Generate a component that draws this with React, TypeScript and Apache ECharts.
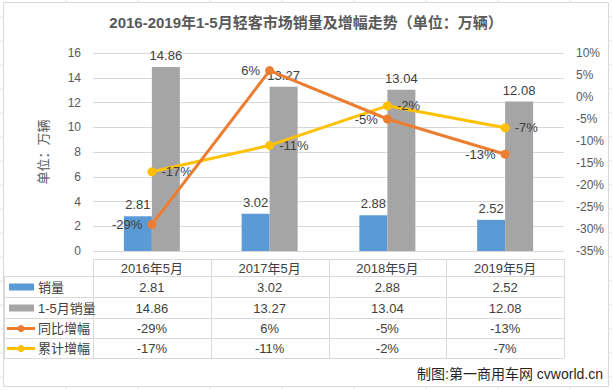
import React, { useEffect, useRef } from "react";
import * as echarts from "echarts";

const categories = ["2016年5月", "2017年5月", "2018年5月", "2019年5月"];
const monthSales = [2.81, 3.02, 2.88, 2.52];
const ytdSales = [14.86, 13.27, 13.04, 12.08];
const yoyGrowth = [-29, 6, -5, -13];
const ytdGrowth = [-17, -11, -2, -7];
const seriesNames = ["销量", "1-5月销量", "同比增幅", "累计增幅"];
const colors = ["#5B9BD5", "#A5A5A5", "#ED7D31", "#FFC000"];
const titleText = "2016-2019年1-5月轻客市场销量及增幅走势（单位：万辆）";
const yAxisName = "单位：万辆";
const footerText = "制图:第一商用车网 cvworld.cn";

const FONT = "'Liberation Sans', 'Noto Sans CJK SC', sans-serif";

export default function App() {
  const ref = useRef<HTMLDivElement>(null);
  useEffect(() => {
    if (!ref.current) return;
    const chart = echarts.init(ref.current, null, { renderer: "svg" });

    const gridLeft = 93;
    const gridRight = 564;
    const colW = (gridRight - gridLeft) / categories.length;
    const headerTop = 259;
    const rowTops = [276, 297, 318, 338, 358];
    const tableLeft = 4;
    const lineColor = "#D9D9D9";

    const graphics: any[] = [];
    // spreadsheet background grid
    for (let x = -6; x < 612; x += 72) {
      graphics.push({ type: "line", z: -20, shape: { x1: x, y1: 0, x2: x, y2: 390 }, style: { stroke: "#E3E3E3", lineWidth: 1 }, silent: true });
    }
    for (let y = 17; y < 390; y += 24) {
      graphics.push({ type: "line", z: -20, shape: { x1: 0, y1: y, x2: 612, y2: y }, style: { stroke: "#E3E3E3", lineWidth: 1 }, silent: true });
    }
    // chart box
    graphics.push({ type: "rect", z: -10, shape: { x: 3.5, y: 2.5, width: 605, height: 384 }, style: { fill: "#fff", stroke: "#D9D9D9", lineWidth: 1 }, silent: true });

    // table lines
    graphics.push({ type: "line", shape: { x1: gridLeft, y1: headerTop + 0.5, x2: gridRight, y2: headerTop + 0.5 }, style: { stroke: lineColor, lineWidth: 1 } });
    rowTops.forEach((y) => {
      graphics.push({ type: "line", shape: { x1: tableLeft, y1: y + 0.5, x2: gridRight, y2: y + 0.5 }, style: { stroke: lineColor, lineWidth: 1 } });
    });
    graphics.push({ type: "line", shape: { x1: tableLeft + 0.5, y1: rowTops[0], x2: tableLeft + 0.5, y2: rowTops[4] }, style: { stroke: lineColor, lineWidth: 1 } });
    for (let i = 0; i <= categories.length; i++) {
      const x = Math.round(gridLeft + i * colW) + 0.5;
      graphics.push({ type: "line", shape: { x1: x, y1: headerTop, x2: x, y2: rowTops[4] }, style: { stroke: lineColor, lineWidth: 1 } });
    }

    const rows = [
      monthSales.map((v) => v.toFixed(2)),
      ytdSales.map((v) => v.toFixed(2)),
      yoyGrowth.map((v) => v + "%"),
      ytdGrowth.map((v) => v + "%"),
    ];
    rows.forEach((vals, r) => {
      const cy = (rowTops[r] + rowTops[r + 1]) / 2 + 0.5;
      // legend key
      if (r < 2) {
        graphics.push({ type: "rect", shape: { x: 9, y: cy - 3.5, width: 25, height: 7 }, style: { fill: colors[r] } });
      } else {
        graphics.push({ type: "line", shape: { x1: 7, y1: cy, x2: 35, y2: cy }, style: { stroke: colors[r], lineWidth: 3 } });
        graphics.push({ type: "circle", shape: { cx: 21, cy, r: 3.5 }, style: { fill: colors[r] } });
      }
      graphics.push({ type: "text", x: 38, y: cy, style: { text: seriesNames[r], fill: "#404040", font: `13px ${FONT}`, verticalAlign: "middle", align: "left" } });
      vals.forEach((t, c) => {
        graphics.push({ type: "text", x: gridLeft + (c + 0.5) * colW, y: cy, style: { text: t, fill: "#404040", font: `13px ${FONT}`, verticalAlign: "middle", align: "center" } });
      });
    });

    graphics.push({ type: "text", right: 9, top: 367, style: { text: footerText, fill: "#262626", font: `14px ${FONT}` } });

    const option: any = {
      animation: false,
      title: {
        text: titleText,
        left: 301,
        top: 10,
        textAlign: "center",
        textStyle: { fontSize: 15, fontWeight: "bold", color: "#595959", fontFamily: FONT },
      },
      grid: { left: gridLeft, right: 612 - gridRight, top: 53, bottom: 390 - 251 },
      xAxis: {
        type: "category",
        data: categories,
        axisLine: { show: false },
        axisTick: { show: false },
        axisLabel: { margin: 11, color: "#404040", fontSize: 13, fontFamily: FONT },
      },
      yAxis: [
        {
          type: "value",
          min: 0,
          max: 16,
          interval: 2,
          name: yAxisName,
          nameLocation: "middle",
          nameGap: 43,
          nameRotate: 90,
          nameTextStyle: { color: "#595959", fontSize: 13, fontFamily: FONT },
          axisLine: { show: false },
          axisTick: { show: false },
          axisLabel: { margin: 12, color: "#595959", fontSize: 12, fontFamily: FONT },
          splitLine: { lineStyle: { color: "#D9D9D9", width: 1 } },
        },
        {
          type: "value",
          min: -35,
          max: 10,
          interval: 5,
          axisLine: { show: false },
          axisTick: { show: false },
          splitLine: { show: false },
          axisLabel: { margin: 12, color: "#595959", fontSize: 12, fontFamily: FONT, formatter: "{value}%" },
        },
      ],
      series: [
        {
          name: seriesNames[0],
          type: "bar",
          data: monthSales,
          barWidth: 28,
          barGap: "0%",
          itemStyle: { color: colors[0] },
          label: { show: true, position: "top", distance: 5, color: "#404040", fontSize: 13, fontFamily: FONT, formatter: (p: any) => p.value.toFixed(2) },
        },
        {
          name: seriesNames[1],
          type: "bar",
          data: ytdSales,
          barWidth: 28,
          barGap: "0%",
          itemStyle: { color: colors[1] },
          label: { show: true, position: "top", distance: 5, color: "#404040", fontSize: 13, fontFamily: FONT, formatter: (p: any) => p.value.toFixed(2) },
        },
        {
          name: seriesNames[3],
          type: "line",
          yAxisIndex: 1,
          data: ytdGrowth,
          z: 3,
          symbol: "circle",
          symbolSize: 9,
          lineStyle: { color: colors[3], width: 3 },
          itemStyle: { color: colors[3] },
          label: { show: true, position: "right", distance: 5, color: "#404040", fontSize: 13, fontFamily: FONT, formatter: "{c}%" },
        },
        {
          name: seriesNames[2],
          type: "line",
          yAxisIndex: 1,
          data: yoyGrowth,
          z: 4,
          symbol: "circle",
          symbolSize: 9,
          lineStyle: { color: colors[2], width: 3 },
          itemStyle: { color: colors[2] },
          label: { show: true, position: "left", distance: 5, color: "#404040", fontSize: 13, fontFamily: FONT, formatter: "{c}%" },
        },
      ],
      graphic: graphics,
    };
    chart.setOption(option);
    return () => chart.dispose();
  }, []);
  return <div ref={ref} style={{ position: "fixed", left: 0, top: 0, width: 612, height: 390, background: "#fff" }} />;
}
